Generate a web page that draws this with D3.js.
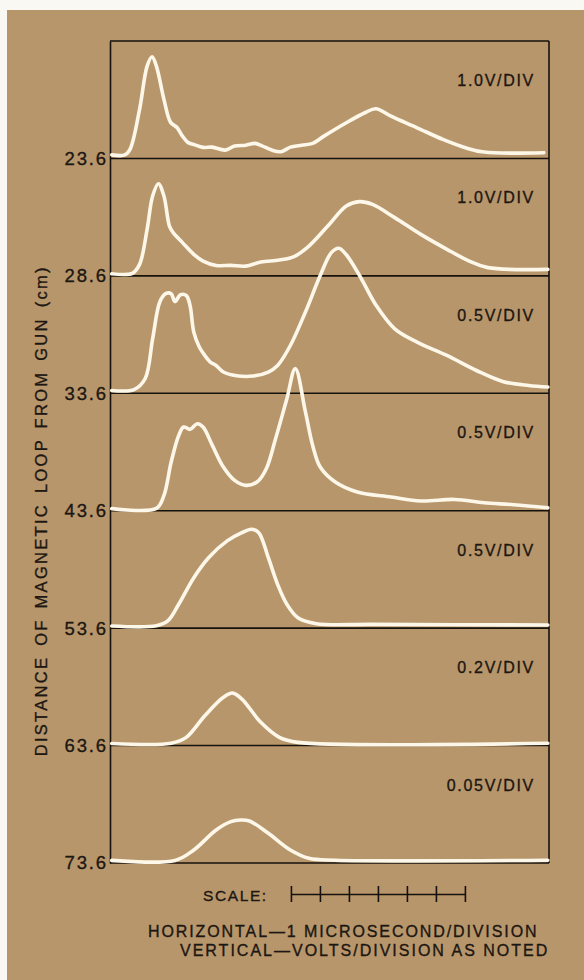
<!DOCTYPE html>
<html>
<head>
<meta charset="utf-8">
<script src="https://cdn.jsdelivr.net/npm/d3@7"></script>
<style>
  body { margin: 0; background: #faf8f3; }
  svg { display: block; }
  text { font-family: "Liberation Sans", Arial, Helvetica, sans-serif; fill: #1c1712; stroke: #1c1712; stroke-width: 0.35px; }
</style>
</head>
<body>
<div id="chart"></div>
<script>
// distance of the loop from the gun, one per trace (label at panel bottom)
var distanceLabels = ["23.6", "28.6", "33.6", "43.6", "53.6", "63.6", "73.6"];
var voltsPerDiv = ["1.0V/DIV", "1.0V/DIV", "0.5V/DIV", "0.5V/DIV", "0.5V/DIV", "0.2V/DIV", "0.05V/DIV"];

// traces: [time in microseconds, height as fraction of one panel]
var trace1 = [[0.06,0.03],[0.51,0.03],[0.69,0.077],[1.02,0.417],[1.28,0.786],[1.45,0.866],[1.60,0.786],
  [1.86,0.503],[2.09,0.307],[2.31,0.264],[2.50,0.19],[2.69,0.136],[2.89,0.119],[3.21,0.094],[3.52,0.096],
  [3.97,0.071],[4.30,0.105],[4.68,0.113],[5.00,0.128],[5.26,0.105],[5.58,0.071],[5.90,0.057],[6.22,0.096],
  [6.61,0.113],[6.99,0.128],[7.38,0.19],[8.15,0.304],[8.79,0.389],[9.17,0.423],[9.69,0.36],[10.59,0.261],
  [11.48,0.162],[12.26,0.091],[12.90,0.054],[14.96,0.049]];
var trace2 = [[0.06,0.018],[0.77,0.022],[1.02,0.098],[1.28,0.396],[1.47,0.68],[1.67,0.785],[1.86,0.68],
  [2.05,0.424],[2.18,0.368],[2.50,0.283],[2.89,0.183],[3.21,0.126],[3.66,0.089],[4.17,0.089],[4.68,0.083],
  [5.20,0.118],[5.84,0.135],[6.35,0.164],[6.86,0.254],[7.51,0.424],[8.15,0.595],[8.60,0.632],[9.05,0.609],
  [9.82,0.496],[10.72,0.353],[11.62,0.226],[12.39,0.126],[13.03,0.07],[15.10,0.055]];
var trace3 = [[0.06,0.024],[0.83,0.032],[1.21,0.124],[1.47,0.464],[1.72,0.779],[1.92,0.848],[2.11,0.848],
  [2.24,0.782],[2.43,0.839],[2.63,0.833],[2.76,0.748],[2.89,0.521],[3.08,0.394],[3.27,0.322],[3.46,0.266],
  [3.66,0.237],[3.91,0.181],[4.43,0.147],[4.94,0.147],[5.46,0.181],[5.78,0.237],[6.22,0.407],[6.74,0.692],
  [7.25,1.003],[7.64,1.2],[7.89,1.235],[8.15,1.18],[8.67,0.975],[9.18,0.748],[9.82,0.549],[10.59,0.436],
  [11.62,0.322],[12.64,0.194],[13.54,0.101],[14.44,0.066],[15.10,0.053]];
var trace4 = [[0.06,0.018],[1.60,0.02],[1.86,0.13],[2.11,0.415],[2.37,0.641],[2.54,0.713],[2.76,0.693],
  [3.01,0.741],[3.21,0.713],[3.53,0.556],[3.91,0.372],[4.30,0.258],[4.68,0.216],[5.07,0.244],[5.39,0.358],
  [5.71,0.613],[6.10,0.954],[6.39,1.21],[6.74,0.841],[6.99,0.556],[7.25,0.372],[7.77,0.244],[8.53,0.159],
  [9.69,0.117],[10.72,0.083],[11.88,0.096],[12.90,0.068],[13.93,0.051],[15.10,0.025]];
var trace5 = [[0.06,0.018],[1.60,0.02],[1.99,0.061],[2.37,0.203],[2.89,0.43],[3.40,0.6],[4.04,0.743],
  [4.55,0.813],[4.88,0.842],[5.13,0.813],[5.46,0.6],[5.78,0.373],[6.10,0.203],[6.48,0.089],[7.12,0.038],
  [9.05,0.032],[15.10,0.027]];
var trace6 = [[0.06,0.018],[2.11,0.02],[2.63,0.07],[3.27,0.254],[3.91,0.411],[4.23,0.447],[4.55,0.396],
  [5.20,0.198],[5.84,0.07],[6.48,0.027],[15.10,0.02]];
var trace7 = [[0.06,0.022],[2.24,0.022],[2.89,0.111],[3.66,0.281],[4.17,0.352],[4.49,0.366],[4.81,0.358],
  [5.46,0.253],[6.22,0.111],[6.86,0.04],[7.77,0.024],[15.10,0.024]];
var traces = [trace1, trace2, trace3, trace4, trace5, trace6, trace7];

// scale bar: 6 divisions of 1 microsecond, starting at this time
var scaleStart = 6.24;
var scaleDivisions = d3.range(7);

var W = 584, H = 980;
var box = {left: 110, right: 549, top: 41, bottom: 863};

var svg = d3.select("#chart").append("svg")
    .attr("width", W)
    .attr("height", H);

// tan paper
svg.append("rect")
    .attr("x", 7).attr("y", 10)
    .attr("width", W - 7).attr("height", H - 10)
    .attr("fill", "#b8966b");

var x = d3.scaleLinear().domain([0, 15.14]).range([box.left, box.right]);
var yEdge = d3.scaleLinear().domain([0, traces.length]).range([box.top, box.bottom]);
var panelH = yEdge(1) - yEdge(0);
var yAmp = d3.scaleLinear().domain([0, 1]).range([0, -panelH]);

// frame: left axis carries the distance labels
var yAxis = d3.axisLeft(yEdge)
    .tickValues(d3.range(1, traces.length + 1))
    .tickFormat(function(i) { return distanceLabels[i - 1]; })
    .tickSize(0)
    .tickPadding(4);

var yAxisGroup = svg.append("g")
    .attr("class", "yAxis")
    .attr("transform", "translate(" + box.left + ",0)")
    .call(yAxis);
yAxisGroup.select(".domain").attr("stroke", "#15110d").attr("stroke-width", 1.6);
yAxisGroup.selectAll("text")
    .style("font-size", "18.5px")
    .style("letter-spacing", "1.8px")
    .attr("fill", "#1c1712")
    .attr("dx", "1.8px");

svg.append("line")
    .attr("x1", box.right).attr("x2", box.right)
    .attr("y1", box.top).attr("y2", box.bottom)
    .attr("stroke", "#15110d").attr("stroke-width", 1.6);

svg.selectAll(".hline")
    .data(d3.range(traces.length + 1))
    .enter().append("line")
    .attr("class", "hline")
    .attr("x1", box.left).attr("x2", box.right)
    .attr("y1", function(i) { return yEdge(i); })
    .attr("y2", function(i) { return yEdge(i); })
    .attr("stroke", "#15110d").attr("stroke-width", 1.6);

// volts/div notes
svg.selectAll(".vdiv")
    .data(voltsPerDiv)
    .enter().append("text")
    .attr("class", "vdiv")
    .attr("x", box.right - 14)
    .attr("y", function(d, i) { return yEdge(i) + 45; })
    .attr("text-anchor", "end")
    .style("font-size", "16px")
    .style("letter-spacing", "1.7px")
    .text(function(d) { return d; });

// traces
var toline = d3.line()
    .x(function(d) { return x(d[0]); })
    .y(function(d) { return yAmp(d[1]); })
    .curve(d3.curveCatmullRom.alpha(0.5));

svg.selectAll(".trace")
    .data(traces)
    .enter().append("path")
    .attr("class", "trace")
    .attr("transform", function(d, i) { return "translate(0," + yEdge(i + 1) + ")"; })
    .attr("d", toline)
    .attr("fill", "none")
    .attr("stroke", "#fcf7e8")
    .attr("stroke-width", 3.6)
    .attr("stroke-linejoin", "round")
    .attr("stroke-linecap", "round");

// y title
svg.append("text")
    .attr("transform", "translate(47," + yEdge(4.0) + ") rotate(-90)")
    .attr("text-anchor", "middle")
    .style("font-size", "16.5px")
    .style("letter-spacing", "2.3px")
    .style("word-spacing", "3px")
    .text("DISTANCE OF MAGNETIC LOOP FROM GUN (cm)");

// scale bar
var xBar = d3.scaleLinear()
    .domain([0, 6])
    .range([x(scaleStart), x(scaleStart + 6)]);

var barGroup = svg.append("g")
    .attr("transform", "translate(0,894)")
    .call(d3.axisBottom(xBar).tickValues(scaleDivisions).tickSize(8).tickSizeOuter(0).tickFormat(""));
barGroup.select(".domain").attr("stroke", "#15110d").attr("stroke-width", 1.6);
barGroup.selectAll(".tick line")
    .attr("y1", -8)
    .attr("stroke", "#15110d").attr("stroke-width", 1.6);

svg.append("text")
    .attr("x", 203).attr("y", 901)
    .style("font-size", "15.5px")
    .style("letter-spacing", "1.6px")
    .text("SCALE:");

svg.append("text")
    .attr("x", 148).attr("y", 937)
    .style("font-size", "16px")
    .style("letter-spacing", "1.9px")
    .text("HORIZONTAL\u20141 MICROSECOND/DIVISION");

svg.append("text")
    .attr("x", 180).attr("y", 956)
    .style("font-size", "16px")
    .style("letter-spacing", "2px")
    .text("VERTICAL\u2014VOLTS/DIVISION AS NOTED");
</script>
</body>
</html>
